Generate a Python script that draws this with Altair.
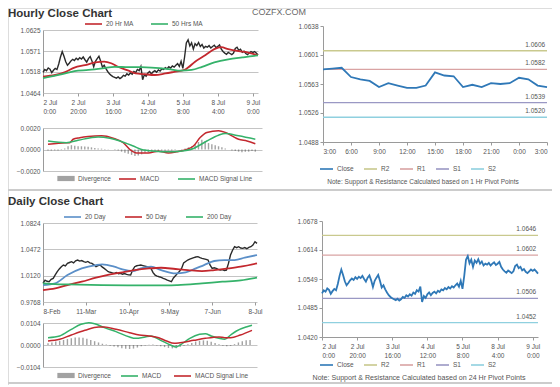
import json
import altair as alt
import pandas as pd

FONT = "Liberation Sans"
RED = "#c3282e"
GREEN = "#35b26a"
BLUE = "#5b8fc8"
DARK = "#2a2a2a"
GRID = "#c4c4c4"
AX = "#9a9a9a"
LBL = 6.5
TOTAL_W, TOTAL_H = 544, 377

# ---------------- hourly data (2 Jul 0:00 .. 9 Jul, trading-hour index) -------------
hourly_close = [
    1.0517, 1.0524, 1.0521, 1.0528, 1.0525, 1.0516, 1.0522, 1.0527, 1.0524, 1.0538,
    1.0556, 1.0570, 1.0558, 1.0544, 1.0535, 1.0540, 1.0546, 1.0550, 1.0547, 1.0553,
    1.0549, 1.0554, 1.0551, 1.0556, 1.0549, 1.0543, 1.0552, 1.0557, 1.0546, 1.0531,
    1.0545, 1.0552, 1.0558, 1.0545, 1.0530, 1.0535, 1.0526, 1.0519, 1.0513, 1.0509,
    1.0506, 1.0504, 1.0502, 1.0505, 1.0501, 1.0504, 1.0509, 1.0507, 1.0513, 1.0510,
    1.0515, 1.0512, 1.0519, 1.0516, 1.0524, 1.0521, 1.0532, 1.0498, 1.0511, 1.0507,
    1.0515, 1.0519, 1.0513, 1.0518, 1.0521, 1.0517, 1.0523, 1.0520, 1.0526, 1.0524,
    1.0529, 1.0526, 1.0531, 1.0528, 1.0533, 1.0530, 1.0535, 1.0539, 1.0532, 1.0545,
    1.0527, 1.0556, 1.0592, 1.0600, 1.0584, 1.0592, 1.0576, 1.0590, 1.0585, 1.0593,
    1.0583, 1.0588, 1.0579, 1.0583, 1.0581, 1.0585, 1.0579, 1.0583, 1.0586, 1.0580,
    1.0583, 1.0587, 1.0576, 1.0570, 1.0566, 1.0563, 1.0568, 1.0565, 1.0562, 1.0566,
    1.0578, 1.0581, 1.0573, 1.0576, 1.0568, 1.0571, 1.0565, 1.0562, 1.0566, 1.0570,
    1.0567, 1.0570, 1.0566, 1.0561,
]
hour_ticks = [0, 20, 40, 60, 80, 100, 120]
hour_tick_day = ["2 Jul", "2 Jul", "3 Jul", "4 Jul", "5 Jul", "8 Jul", "9 Jul"]
hour_tick_time = ["0:00", "20:00", "16:00", "12:00", "8:00", "4:00", "0:00"]
hour_yticks = [1.0464, 1.0518, 1.0571, 1.0625]

ma20_i = [0, 7, 13, 18, 24, 30, 35, 39, 43, 49, 53, 58, 64, 70, 75, 81, 83, 87, 93, 98, 102, 106, 112, 117, 121, 123]
ma20_v = [1.0506, 1.0510, 1.0518, 1.0529, 1.0535, 1.0542, 1.0544, 1.0540, 1.0531, 1.0521, 1.0514, 1.0512, 1.0510,
          1.0514, 1.0518, 1.0523, 1.0529, 1.0544, 1.0561, 1.0576, 1.0581, 1.0576, 1.0571, 1.0568, 1.0563, 1.0561]
ma50_i = [0, 11, 18, 26, 34, 41, 49, 56, 62, 72, 79, 85, 91, 98, 106, 114, 121, 123]
ma50_v = [1.0502, 1.0512, 1.0520, 1.0523, 1.0527, 1.0531, 1.0530, 1.0530, 1.0529, 1.0525, 1.0521, 1.0523,
          1.0531, 1.0542, 1.0550, 1.0555, 1.0559, 1.0560]

macd_h_i = [0, 11, 13, 15, 19, 24, 32, 39, 45, 49, 53, 60, 66, 72, 77, 83, 87, 91, 95, 102, 106, 110, 114, 119, 124]
macd_h_v = [0.00048, 0.00063, 0.00063, 0.00095, 0.00110, 0.00121, 0.00127, 0.00105, 0.00063, 0.0, -0.00032,
            -0.00032, -0.00016, -0.00032, -0.00022, 0.0, 0.00032, 0.00111, 0.00159, 0.00175, 0.00159, 0.00127,
            0.00095, 0.00079, 0.00054]
sig_h_i = [0, 11, 18, 30, 37, 43, 51, 56, 64, 72, 79, 87, 95, 102, 106, 114, 124]
sig_h_v = [0.00079, 0.00063, 0.00086, 0.00117, 0.00105, 0.00079, 0.00032, 0.0, -0.00016, -0.00022, -0.00016,
           0.0001, 0.00079, 0.00133, 0.00149, 0.00127, 0.00095]
div_h_i = [0, 2, 4, 6, 8, 10, 12, 14, 16, 18, 20, 22, 24, 26, 28, 30, 32, 34, 36, 38, 40, 42, 44, 46, 48, 50,
           52, 54, 56, 58, 60, 62, 64, 66, 68, 70, 72, 74, 76, 78, 80, 82, 84, 86, 88, 90, 92, 94, 96, 98, 100,
           102, 104, 106, 108, 110, 112, 114, 116, 118, 120, 122, 124]
div_h_v = [-0.0001, -0.0001, -0.00008, -0.0001, -0.00005, 0.0001, 0.0003, 0.0004, 0.00035, 0.0003, 0.0003,
           0.00028, 0.00025, 0.0002, 0.00015, 0.0001, 0.00008, 0.00005, 0.00003, 0.0, -0.00005, -0.0001, -0.0002,
           -0.0003, -0.0004, -0.0005, -0.0006, -0.00055, -0.00045, -0.0003, -0.00025, -0.0002, -0.00015, -0.0002,
           -0.0001, -0.00012, -0.00008, -0.0001, -0.00005, 0.0, 0.00005, 0.0001, 0.0002, 0.0003, 0.0005, 0.0007,
           0.0009, 0.0008, 0.0006, 0.0005, 0.0004, 0.0003, 0.0002, 0.0001, 0.0, -0.0001, -0.00015, -0.0002,
           -0.00025, -0.0002, -0.0002, -0.00015, -0.0002]

# ---------------- last 24 hours with 1 Hr pivot levels ----------------
sr1_close = [1.0582, 1.0583, 1.0584, 1.0572, 1.0569, 1.0567, 1.0559, 1.0564, 1.0561, 1.0558, 1.0558, 1.0561,
             1.0578, 1.0574, 1.0573, 1.0559, 1.0562, 1.0559, 1.0564, 1.0563, 1.0564, 1.0571, 1.0569, 1.0561, 1.0559]
sr1_ticks = [0, 3, 6, 9, 12, 15, 18, 21, 24]
sr1_tick_labels = ["3:00", "6:00", "9:00", "12:00", "15:00", "18:00", "21:00", "0:00", "3:00"]
sr1_names = ["R2", "R1", "S1", "S2"]
sr1_levels = [1.0606, 1.0582, 1.0539, 1.0520]
sr1_yticks = [1.0488, 1.0526, 1.0563, 1.0601, 1.0638]

# ---------------- daily data (8 Feb .. 8 Jul, trading-day index) ----------------
daily_close = [
    1.0017, 1.0061, 1.0045, 1.0039, 1.0070, 1.0084, 1.0130, 1.0173, 1.0210, 1.0240,
    1.0262, 1.0250, 1.0284, 1.0296, 1.0307, 1.0290, 1.0318, 1.0329, 1.0315, 1.0322,
    1.0307, 1.0298, 1.0310, 1.0292, 1.0284, 1.0265, 1.0240, 1.0255, 1.0262, 1.0238,
    1.0217, 1.0195, 1.0173, 1.0165, 1.0158, 1.0151, 1.0162, 1.0145, 1.0151, 1.0140,
    1.0148, 1.0137, 1.0130, 1.0128, 1.0195, 1.0240, 1.0252, 1.0258, 1.0262, 1.0255,
    1.0248, 1.0240, 1.0232, 1.0217, 1.0160, 1.0128, 1.0115, 1.0106, 1.0098, 1.0084,
    1.0075, 1.0061, 1.0050, 1.0039, 1.0090, 1.0120, 1.0151, 1.0180, 1.0217, 1.0290,
    1.0310, 1.0329, 1.0340, 1.0351, 1.0362, 1.0370, 1.0374, 1.0360, 1.0351, 1.0345,
    1.0338, 1.0329, 1.0260, 1.0217, 1.0225, 1.0217, 1.0205, 1.0195, 1.0200, 1.0190,
    1.0195, 1.0284, 1.0396, 1.0460, 1.0507, 1.0495, 1.0507, 1.0490, 1.0485, 1.0495,
    1.0480, 1.0498, 1.0507, 1.0530, 1.0574, 1.0552,
]
day_ticks = [0, 21, 42, 62, 83, 104]
day_tick_labels = ["8-Feb", "11-Mar", "10-Apr", "9-May", "7-Jun", "8-Jul"]
day_yticks = [0.9768, 1.0120, 1.0472, 1.0824]

d20_i = [0, 6, 12, 19, 26, 29, 35, 39, 44, 48, 53, 58, 65, 70, 75, 79, 84, 89, 94, 99, 105]
d20_v = [0.9994, 1.0017, 1.0128, 1.0217, 1.0262, 1.0271, 1.0240, 1.0204, 1.0182, 1.0217, 1.0240, 1.0195,
         1.0151, 1.0164, 1.0217, 1.0262, 1.0316, 1.0329, 1.0329, 1.0360, 1.0396]
d50_i = [0, 6, 12, 19, 26, 33, 39, 45, 52, 58, 65, 71, 78, 84, 91, 97, 105]
d50_v = [0.9928, 0.9950, 0.9994, 1.0039, 1.0093, 1.0137, 1.0164, 1.0195, 1.0217, 1.0226, 1.0209, 1.0195,
         1.0182, 1.0195, 1.0217, 1.0240, 1.0284]
d200_i = [0, 6, 12, 29, 45, 61, 66, 78, 88, 97, 105]
d200_v = [1.0017, 1.0008, 1.0003, 0.9994, 0.9990, 0.9990, 0.9994, 1.0017, 1.0039, 1.0057, 1.0093]

macd_d_i = [0, 6, 12, 17, 21, 24, 29, 35, 42, 45, 50, 53, 58, 63, 66, 68, 73, 78, 81, 84, 88, 91, 94, 97, 102, 105]
macd_d_v = [0.00347, 0.00426, 0.00741, 0.00978, 0.01057, 0.01009, 0.0082, 0.00631, 0.00378, 0.00315, 0.00378,
            0.00426, 0.00221, 0.0, -0.00095, 0.0, 0.00315, 0.00505, 0.00536, 0.00426, 0.00315, 0.00268, 0.00473,
            0.00662, 0.00852, 0.0093]
sig_d_i = [0, 6, 12, 19, 26, 29, 35, 42, 47, 52, 57, 61, 65, 68, 75, 81, 88, 91, 94, 99, 105]
sig_d_v = [0.00189, 0.00268, 0.00473, 0.00694, 0.00852, 0.00852, 0.00741, 0.00583, 0.00473, 0.00426, 0.00347,
           0.00189, 0.00079, 0.0011, 0.00221, 0.00315, 0.00378, 0.00347, 0.00347, 0.00473, 0.00694]
div_d_i = [0, 2, 4, 6, 8, 10, 12, 14, 16, 18, 20, 22, 24, 26, 28, 30, 32, 34, 36, 38, 40, 42, 44, 46, 48, 50,
           52, 54, 56, 58, 60, 62, 64, 66, 68, 70, 72, 74, 76, 78, 80, 82, 84, 86, 88, 90, 92, 94, 96, 98, 100,
           102, 104]
div_d_v = [0.0008, 0.0012, 0.0016, 0.0020, 0.0024, 0.0028, 0.0032, 0.0035, 0.0036, 0.0034, 0.0030, 0.0024,
           0.0018, 0.0012, 0.0006, 0.0002, -0.0003, -0.0007, -0.0011, -0.0015, -0.0018, -0.0019, -0.0017,
           -0.0012, -0.0006, -0.0002, 0.0001, 0.0002, -0.0002, -0.0006, -0.0010, -0.0014, -0.0016, -0.0015,
           -0.0010, -0.0004, 0.0003, 0.0010, 0.0016, 0.0020, 0.0022, 0.0020, 0.0015, 0.0009, 0.0003, -0.0003,
           -0.0006, -0.0004, 0.0004, 0.0012, 0.0018, 0.0022, 0.0024]

# ---------------- last week with 24 Hr pivot levels ----------------
sr24_names = ["R2", "R1", "S1", "S2"]
sr24_levels = [1.0646, 1.0602, 1.0506, 1.0452]
sr24_yticks = [1.0420, 1.0485, 1.0549, 1.0614, 1.0678]

SR_COLORS = ["#2f78b7", "#c9c98e", "#d9a3a3", "#9a98c4", "#8fd0df"]


def tick_expr(ticks, labels):
    return f"{json.dumps(labels)}[indexof({json.dumps(ticks)}, datum.value)]"


hour_label_expr = tick_expr(hour_ticks, [[d, t] for d, t in zip(hour_tick_day, hour_tick_time)])


def sc(domain, rng):
    return alt.Scale(domain=domain, range=rng, nice=False, zero=False)


def line_legend(x, y, pad, size=289):
    return alt.Legend(orient="none", legendX=x, legendY=y, direction="horizontal", title=None,
                      symbolType="stroke", symbolSize=size, symbolStrokeWidth=1.6, columnPadding=pad,
                      labelFontSize=LBL, labelColor="#555", labelFont=FONT, padding=0, labelOffset=3)


def div_legend(x, y):
    return alt.Legend(orient="none", legendX=x, legendY=y, direction="horizontal", title=None,
                      symbolType="M-1,-0.3H1V0.3H-1Z", symbolSize=300, symbolStrokeWidth=0,
                      labelFontSize=LBL, labelColor="#555", labelFont=FONT, padding=0, labelOffset=3)


def y_left(vals, left, grid=True):
    return alt.Axis(values=vals, format=".4f", grid=grid, gridColor=GRID, domainColor=AX, tickColor=AX,
                    ticks=not grid, tickSize=3, labelPadding=3 if grid else 2, title=None,
                    labelFontSize=LBL, labelFont=FONT, labelColor="#555", labelOverlap=False,
                    orient="left", offset=-left)


def x_bottom(vals, expr, bottom, domain):
    return alt.Axis(values=vals, labelExpr=expr, grid=False, domain=domain, domainColor=AX, tickColor=AX,
                    tickSize=3, labelPadding=3, title=None, labelFontSize=LBL, labelFont=FONT,
                    labelColor="#555", labelOverlap=False, labelLineHeight=9.5,
                    orient="bottom", offset=bottom - TOTAL_H)


def series_df(idx, vals, name):
    return pd.DataFrame({"i": idx, "v": vals, "name": name})


def text_df(t):
    return pd.DataFrame({"t": [t]})


# ================= Hourly price panel =================
xs, ys = sc([0, 123], [35, 250]), sc([1.0464, 1.0625], [85, 22])
df_hc = pd.DataFrame({"i": list(range(len(hourly_close))), "v": hourly_close})
h_close = alt.Chart(df_hc).mark_line(color=DARK, strokeWidth=1.4).encode(
    x=alt.X("i:Q", scale=xs, axis=x_bottom(hour_ticks, hour_label_expr, 85, False)),
    y=alt.Y("v:Q", scale=ys, axis=y_left(hour_yticks, 35)))
df_hma = pd.concat([series_df(ma20_i, ma20_v, "20 Hr MA"), series_df(ma50_i, ma50_v, "50 Hrs MA")])
h_ma = alt.Chart(df_hma).mark_line(strokeWidth=1.8, interpolate="monotone").encode(
    x=alt.X("i:Q", scale=xs), y=alt.Y("v:Q", scale=ys),
    color=alt.Color("name:N", scale=alt.Scale(domain=["20 Hr MA", "50 Hrs MA"], range=[RED, GREEN]),
                    legend=line_legend(76, 6.5, 13)))
p_price_h = alt.layer(h_close, h_ma)

# ================= Hourly MACD panel =================
xs, ys = sc([0, 125], [35, 254]), sc([-0.002, 0.002], [163, 120])
h_div = alt.Chart(series_df(div_h_i, div_h_v, "Divergence")).mark_bar(size=1.4, opacity=0.55).encode(
    x=alt.X("i:Q", scale=xs, axis=None),
    y=alt.Y("v:Q", scale=ys, axis=y_left([-0.002, 0.0, 0.002], 35)), y2=alt.datum(0),
    fill=alt.Fill("name:N", scale=alt.Scale(domain=["Divergence"], range=["#555555"]), legend=div_legend(49, 161.5)))
df_hm = pd.concat([series_df(macd_h_i, macd_h_v, "MACD"), series_df(sig_h_i, sig_h_v, "MACD Signal Line")])
h_macd = alt.Chart(df_hm).mark_line(strokeWidth=1.5, interpolate="monotone").encode(
    x=alt.X("i:Q", scale=xs), y=alt.Y("v:Q", scale=ys),
    color=alt.Color("name:N", scale=alt.Scale(domain=["MACD", "MACD Signal Line"], range=[RED, GREEN]),
                    legend=line_legend(110, 161.5, 14)))
p_macd_h = alt.layer(h_div, h_macd)

# ================= 1 Hr pivot panel =================
xs, ys = sc([0, 24], [315, 539]), sc([1.0488, 1.0638], [134, 18])
c1 = alt.Color("name:N", scale=alt.Scale(domain=["Close"] + sr1_names, range=SR_COLORS),
               legend=line_legend(311, 153.5, 6, size=169))
df_lv1 = pd.DataFrame({"v": sr1_levels, "name": sr1_names, "lab": [f"{v:.4f}" for v in sr1_levels]})
df_s1 = pd.DataFrame({"i": list(range(len(sr1_close))), "v": sr1_close, "name": "Close"})
s1_line = alt.Chart(df_s1).mark_line(strokeWidth=1.8).encode(
    x=alt.X("i:Q", scale=xs, axis=x_bottom(sr1_ticks, tick_expr(sr1_ticks, sr1_tick_labels), 134, True)),
    y=alt.Y("v:Q", scale=ys, axis=y_left(sr1_yticks, 315, grid=False)), color=c1)
s1_rules = alt.Chart(df_lv1).mark_rule(strokeWidth=1.3).encode(
    x=alt.datum(0, scale=xs), x2=alt.datum(24), y=alt.Y("v:Q", scale=ys), color=c1)
s1_text = alt.Chart(df_lv1).mark_text(align="right", dy=-6, fontSize=LBL, color="#555", font=FONT).encode(
    x=alt.datum(23.8, scale=xs), y=alt.Y("v:Q", scale=ys), text="lab:N")
p_sr1 = alt.layer(s1_rules, s1_line, s1_text)

# ================= Daily price panel =================
xs, ys = sc([0, 105], [35, 249]), sc([0.9768, 1.0824], [294, 215])
df_dc = pd.DataFrame({"i": list(range(len(daily_close))), "v": daily_close})
d_close = alt.Chart(df_dc).mark_line(color=DARK, strokeWidth=1.4).encode(
    x=alt.X("i:Q", scale=xs, axis=x_bottom(day_ticks, tick_expr(day_ticks, day_tick_labels), 294, False)),
    y=alt.Y("v:Q", scale=ys, axis=y_left(day_yticks, 35)))
df_dma = pd.concat([series_df(d20_i, d20_v, "20 Day"), series_df(d50_i, d50_v, "50 Day"),
                    series_df(d200_i, d200_v, "200 Day")])
d_ma = alt.Chart(df_dma).mark_line(strokeWidth=1.8, interpolate="monotone").encode(
    x=alt.X("i:Q", scale=xs), y=alt.Y("v:Q", scale=ys),
    color=alt.Color("name:N", scale=alt.Scale(domain=["20 Day", "50 Day", "200 Day"], range=[BLUE, RED, GREEN]),
                    legend=line_legend(55, 199.5, 15)))
p_price_d = alt.layer(d_close, d_ma)

# ================= Daily MACD panel =================
xs, ys = sc([0, 105], [35, 249]), sc([-0.0104, 0.0104], [359, 315])
d_div = alt.Chart(series_df(div_d_i, div_d_v, "Divergence")).mark_bar(size=1.4, opacity=0.55).encode(
    x=alt.X("i:Q", scale=xs, axis=None),
    y=alt.Y("v:Q", scale=ys, axis=y_left([-0.0104, 0.0, 0.0104], 35)), y2=alt.datum(0),
    fill=alt.Fill("name:N", scale=alt.Scale(domain=["Divergence"], range=["#555555"]), legend=div_legend(49, 358.5)))
df_dm = pd.concat([series_df(macd_d_i, macd_d_v, "MACD"), series_df(sig_d_i, sig_d_v, "MACD Signal Line")])
d_macd = alt.Chart(df_dm).mark_line(strokeWidth=1.5, interpolate="monotone").encode(
    x=alt.X("i:Q", scale=xs), y=alt.Y("v:Q", scale=ys),
    color=alt.Color("name:N", scale=alt.Scale(domain=["MACD", "MACD Signal Line"], range=[GREEN, RED]),
                    legend=line_legend(112, 358.5, 8)))
p_macd_d = alt.layer(d_div, d_macd)

# ================= 24 Hr pivot panel =================
xs, ys = sc([0, 123], [314, 530]), sc([1.0420, 1.0678], [329, 213])
c4 = alt.Color("name:N", scale=alt.Scale(domain=["Close"] + sr24_names, range=SR_COLORS),
               legend=line_legend(311, 349.5, 6, size=169))
df_lv4 = pd.DataFrame({"v": sr24_levels, "name": sr24_names, "lab": [f"{v:.4f}" for v in sr24_levels]})
df_s4 = pd.DataFrame({"i": list(range(len(hourly_close))), "v": hourly_close, "name": "Close"})
s4_line = alt.Chart(df_s4).mark_line(strokeWidth=1.8).encode(
    x=alt.X("i:Q", scale=xs, axis=x_bottom(hour_ticks, hour_label_expr, 329, True)),
    y=alt.Y("v:Q", scale=ys, axis=y_left(sr24_yticks, 314, grid=False)), color=c4)
s4_rules = alt.Chart(df_lv4).mark_rule(strokeWidth=1.3).encode(
    x=alt.datum(0, scale=xs), x2=alt.datum(123), y=alt.Y("v:Q", scale=ys), color=c4)
s4_text = alt.Chart(df_lv4).mark_text(align="right", dy=-6, fontSize=LBL, color="#555", font=FONT).encode(
    x=alt.datum(122, scale=xs), y=alt.Y("v:Q", scale=ys), text="lab:N")
p_sr24 = alt.layer(s4_rules, s4_line, s4_text)

# ================= titles, notes, separators =================
t_h = alt.Chart(text_df("Hourly Close Chart")).mark_text(
    align="left", baseline="alphabetic", fontSize=11.5, fontWeight="bold", color="#333", font=FONT).encode(
    text="t:N", x=alt.value(0), y=alt.value(9))
t_d = alt.Chart(text_df("Daily Close Chart")).mark_text(
    align="left", baseline="alphabetic", fontSize=11.5, fontWeight="bold", color="#333", font=FONT).encode(
    text="t:N", x=alt.value(0), y=alt.value(197))
brand = alt.Chart(text_df("COZFX.COM")).mark_text(fontSize=9, color="#6a6a6a", font=FONT).encode(
    text="t:N", x=alt.value(271), y=alt.value(4))
note1 = alt.Chart(text_df("Note: Support & Resistance Calculated based on 1 Hr Pivot Points")).mark_text(
    fontSize=6.5, color="#555", font=FONT).encode(text="t:N", x=alt.value(415), y=alt.value(174))
note4 = alt.Chart(text_df("Note: Support & Resistance Calculated based on 24 Hr Pivot Points")).mark_text(
    fontSize=7.1, color="#555", font=FONT).encode(text="t:N", x=alt.value(411), y=alt.value(370))
sep1 = alt.Chart(text_df("sep")).mark_rule(color="#cccccc", strokeWidth=2).encode(
    x=alt.value(0), x2=alt.value(TOTAL_W), y=alt.value(182))
sep2 = alt.Chart(text_df("sep")).mark_rule(color="#cccccc", strokeWidth=2).encode(
    x=alt.value(0), x2=alt.value(TOTAL_W), y=alt.value(375))

chart = alt.layer(
    p_price_h, p_macd_h, p_sr1, p_price_d, p_macd_d, p_sr24,
    t_h, t_d, brand, note1, note4, sep1, sep2,
).resolve_scale(
    x="independent", y="independent", color="independent", fill="independent"
).resolve_axis(x="independent", y="independent").resolve_legend(
    color="independent", fill="independent"
).properties(
    width=TOTAL_W, height=TOTAL_H, padding=0, autosize=alt.AutoSizeParams(type="none")
).configure_view(strokeWidth=0).configure_axis(
    labelFont=FONT, labelFontSize=LBL, labelColor="#555"
).configure_legend(labelFont=FONT, labelFontSize=LBL, labelColor="#555").configure(background="white")

chart.save("out.html", embed_options={"renderer": "svg", "actions": False})
